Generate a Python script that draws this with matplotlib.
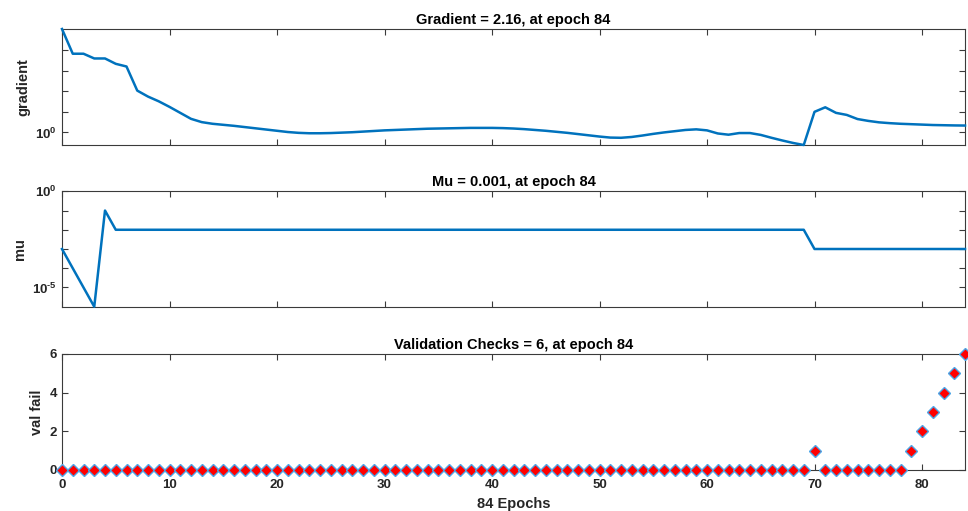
import numpy as np
import matplotlib
matplotlib.use("Agg")
import matplotlib.pyplot as plt
from matplotlib.ticker import FixedLocator, FixedFormatter, NullLocator

plt.rcParams['font.family'] = ['Liberation Sans', 'DejaVu Sans']
plt.rcParams['mathtext.fontset'] = 'custom'
plt.rcParams['mathtext.rm'] = 'Liberation Sans:bold'
plt.rcParams['mathtext.bf'] = 'Liberation Sans:bold'
plt.rcParams['mathtext.default'] = 'bf'

epochs = list(range(85))

# log10 of gradient per epoch
grad_log = [5.02, 3.82, 3.82, 3.59, 3.59, 3.33, 3.20, 2.03, 1.74, 1.51,
            1.24, 0.95, 0.66, 0.50, 0.42, 0.37, 0.32, 0.26, 0.20, 0.14,
            0.08, 0.02, -0.02, -0.04, -0.04, -0.03, -0.01, 0.01, 0.04, 0.07,
            0.10, 0.12, 0.14, 0.16, 0.18, 0.19, 0.20, 0.21, 0.22, 0.22,
            0.22, 0.21, 0.19, 0.16, 0.12, 0.08, 0.03, -0.02, -0.08, -0.14,
            -0.20, -0.25, -0.26, -0.22, -0.15, -0.07, 0.00, 0.06, 0.12, 0.15,
            0.10, -0.05, -0.11, -0.03, -0.03, -0.12, -0.26, -0.39, -0.51, -0.61,
            1.00, 1.22, 0.95, 0.85, 0.65, 0.56, 0.49, 0.45, 0.42, 0.40,
            0.38, 0.36, 0.35, 0.34, 0.334]
gradient = [10 ** v for v in grad_log]

mu = [1e-3, 1e-4, 1e-5, 1e-6, 1e-1] + [1e-2] * 65 + [1e-3] * 15

val_fail = [0] * 70 + [1] + [0] * 8 + [1, 2, 3, 4, 5, 6]

titles = ["Gradient = 2.16, at epoch 84",
          "Mu = 0.001, at epoch 84",
          "Validation Checks = 6, at epoch 84"]
ylabels = ["gradient", "mu", "val fail"]
xticks = [0, 10, 20, 30, 40, 50, 60, 70, 80]
xlabel = "84 Epochs"

blue = '#0072BD'
edge = '#3a3a3a'

fig = plt.figure(figsize=(9.68, 5.11), dpi=100)
W, H = 968, 511
def rect(top, bottom):
    return [62 / W, 1 - bottom / H, 903 / W, (bottom - top) / H]

ax1 = fig.add_axes(rect(29, 145))
ax2 = fig.add_axes(rect(191.3, 306.7))
ax3 = fig.add_axes(rect(354, 470))

for ax in (ax1, ax2, ax3):
    ax.set_xlim(0, 84)
    ax.xaxis.set_major_locator(FixedLocator(xticks))
    ax.tick_params(direction='in', length=4, width=0.8, top=True, right=True,
                   colors=edge, labelsize=9.5, labelcolor='#262626')
    ax.tick_params(axis='x', pad=6.5)
    for s in ax.spines.values():
        s.set_color(edge)
        s.set_linewidth(0.8)

# Gradient
ax1.plot(epochs, gradient, color=blue, lw=1.8, clip_on=False, zorder=3)
ax1.set_yscale('log')
ax1.set_ylim(min(gradient), max(gradient))
ax1.yaxis.set_major_locator(FixedLocator([1e0, 1e1, 1e2, 1e3, 1e4]))
ax1.yaxis.set_major_formatter(FixedFormatter([r'$\mathbf{10^0}$', '', '', '', '']))
ax1.yaxis.set_minor_locator(NullLocator())
ax1.set_xticklabels([])

# Mu
ax2.plot(epochs, mu, color=blue, lw=1.8, clip_on=False, zorder=3)
ax2.set_yscale('log')
ax2.set_ylim(1e-6, 1e0)
ax2.yaxis.set_major_locator(FixedLocator([1e-5, 1e-4, 1e-3, 1e-2, 1e-1, 1e0]))
ax2.yaxis.set_major_formatter(FixedFormatter(['$\\mathbf{10^{\\text{-}5}}$', '', '', '', '', r'$\mathbf{10^0}$']))
ax2.yaxis.set_minor_locator(NullLocator())
ax2.set_xticklabels([])

# Validation checks
ax3.plot(epochs, val_fail, linestyle='none', marker='D', markersize=5.8,
         markerfacecolor='#FF0000', markeredgecolor='#4DA6E8', markeredgewidth=1.0,
         clip_on=False, zorder=3)
ax3.set_ylim(0, 6)
ax3.yaxis.set_major_locator(FixedLocator([0, 2, 4, 6]))
ax3.set_xlabel(xlabel, fontsize=10.5, fontweight='bold', color='#262626', labelpad=4.5)

for ax, t, yl in zip((ax1, ax2, ax3), titles, ylabels):
    ax.set_title(t, fontsize=10.5, fontweight='bold', color='#000000', pad=3.5)
    ax.set_ylabel(yl, fontsize=10.5, fontweight='bold', color='#262626')
    for lab in ax.get_xticklabels() + ax.get_yticklabels():
        lab.set_fontweight('bold')

fig.savefig('out.png', dpi=100)
